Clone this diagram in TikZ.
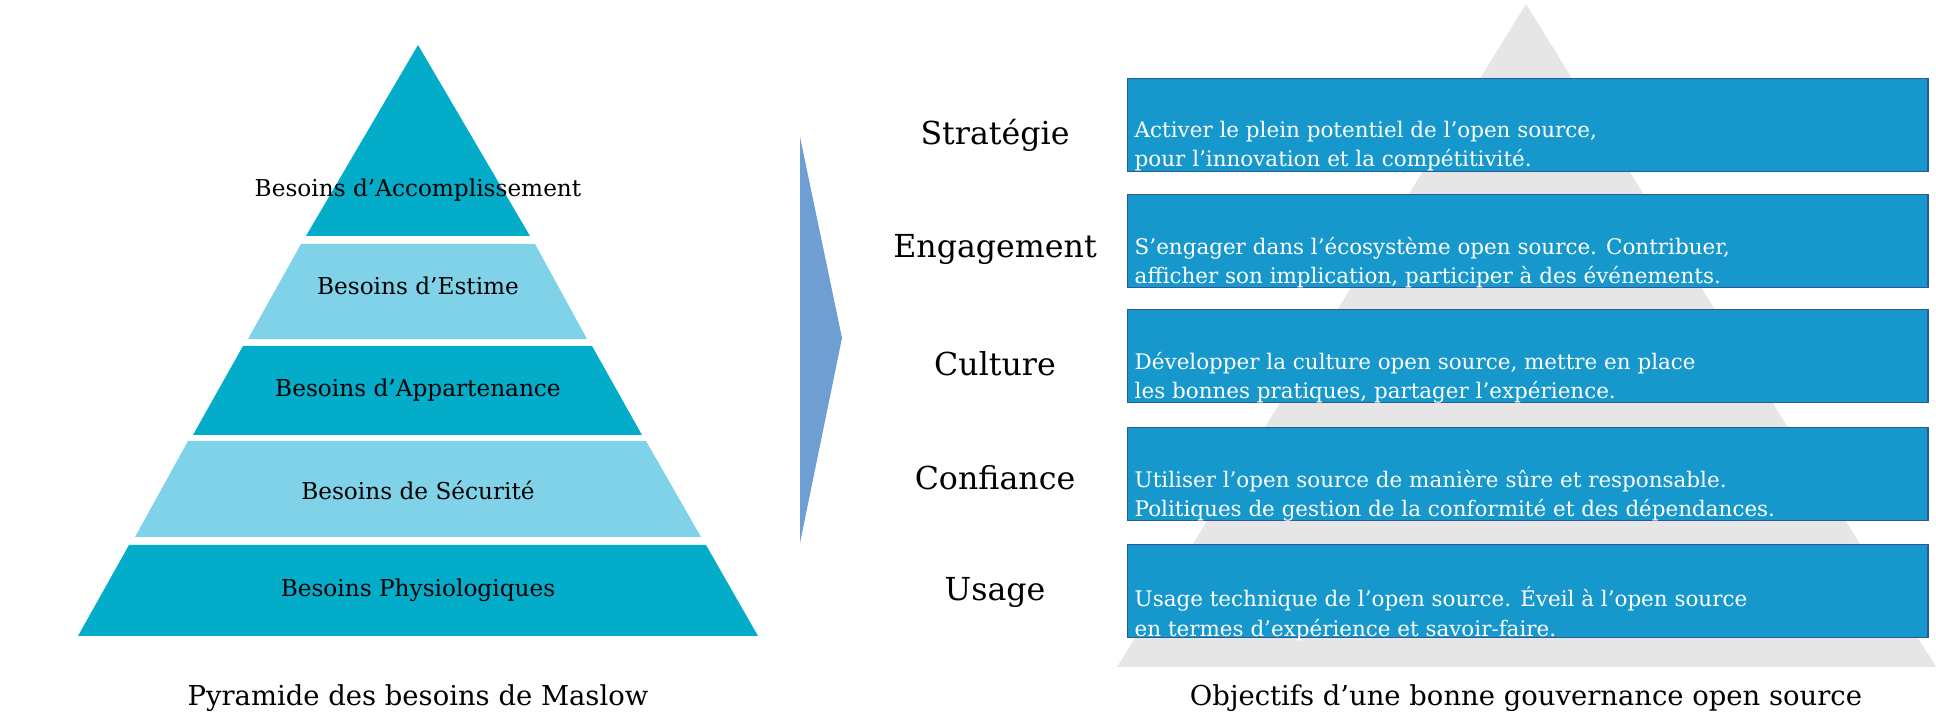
\documentclass[tikz,border=0pt]{standalone}
\usepackage{fontspec}
\setmainfont{DejaVu Serif}
\begin{document}
\begin{tikzpicture}[x=0.01cm,y=-0.01cm]

\definecolor{darkteal}{HTML}{03ACC9}
\definecolor{lightteal}{HTML}{7FD2E8}
\definecolor{chevron}{HTML}{6F9FD2}
\definecolor{goalfill}{HTML}{1798CC}
\definecolor{goaldraw}{HTML}{2A5A9A}
\definecolor{backgrey}{HTML}{E6E6E6}

\tikzset{
    layer label/.style={font=\fontsize{6.6}{8}\selectfont, text=black},
    level label/.style={font=\fontsize{9}{11}\selectfont, text=black},
    caption/.style={font=\fontsize{7.8}{9.5}\selectfont, text=black},
    goal box/.style={
        draw=goaldraw, fill=goalfill, line width=0.4pt,
        rectangle, minimum width=8cm, minimum height=0.93cm,
        anchor=north west, inner sep=0pt
    },
    goal text/.style={
        text=white, font=\fontsize{6.1}{8.4}\selectfont,
        align=left, anchor=north west, inner sep=0pt
    }
}

\useasboundingbox (0,0) rectangle (1936,716);

% Maslow pyramid
\fill[darkteal] (418,45) -- (530,236) -- (306,236) -- cycle;
\fill[lightteal] (301,244) -- (535,244) -- (587,339) -- (248,339) -- cycle;
\fill[darkteal] (243,346) -- (592,346) -- (642,435) -- (193,435) -- cycle;
\fill[lightteal] (188,441) -- (646,441) -- (701,537) -- (135,537) -- cycle;
\fill[darkteal] (129,545) -- (706,545) -- (758,636) -- (78,636) -- cycle;

\node[layer label] (accomp) at (418,190) {Besoins d'Accomplissement};
\node[layer label] (estime) at (418,286) {Besoins d'Estime};
\node[layer label] (appart) at (418,390) {Besoins d'Appartenance};
\node[layer label] (secu) at (418,490) {Besoins de Sécurité};
\node[layer label] (physio) at (418,590) {Besoins Physiologiques};
\node[caption] (maslow) at (418,698) {Pyramide des besoins de Maslow};

% Chevron
\fill[chevron] (800,137) -- (842,338) -- (800,543) -- cycle;

% Governance pyramid
\fill[backgrey] (1526,4) -- (1936,667) -- (1117,667) -- cycle;

\node[goal box] (strategybox) at (1127,78) {};
\node[goal box] (engagebox) at (1127,194) {};
\node[goal box] (culturebox) at (1127,309) {};
\node[goal box] (trustbox) at (1127,427) {};
\node[goal box] (usagebox) at (1127,544) {};

\node[goal text] at ([xshift=2,yshift=-12]strategybox.north west) {Activer le plein potentiel de l'open source,\\pour l'innovation et la compétitivité.};
\node[goal text] at ([xshift=2,yshift=-12]engagebox.north west) {S'engager dans l'écosystème open source. Contribuer,\\afficher son implication, participer à des événements.};
\node[goal text] at ([xshift=2,yshift=-12]culturebox.north west) {Développer la culture open source, mettre en place\\les bonnes pratiques, partager l'expérience.};
\node[goal text] at ([xshift=2,yshift=-12]trustbox.north west) {Utiliser l'open source de manière sûre et responsable.\\Politiques de gestion de la conformité et des dépendances.};
\node[goal text] at ([xshift=2,yshift=-12]usagebox.north west) {Usage technique de l'open source. Éveil à l'open source\\en termes d'expérience et savoir-faire.};

\node[level label] (strategy) at (995,135) {Stratégie};
\node[level label] (engage) at (995,249) {Engagement};
\node[level label] (culture) at (995,364) {Culture};
\node[level label] (trust) at (995,478) {Confiance};
\node[level label] (usage) at (995,592) {Usage};
\node[caption] (goals) at (1526,698) {Objectifs d'une bonne gouvernance open source};

\end{tikzpicture}
\end{document}
